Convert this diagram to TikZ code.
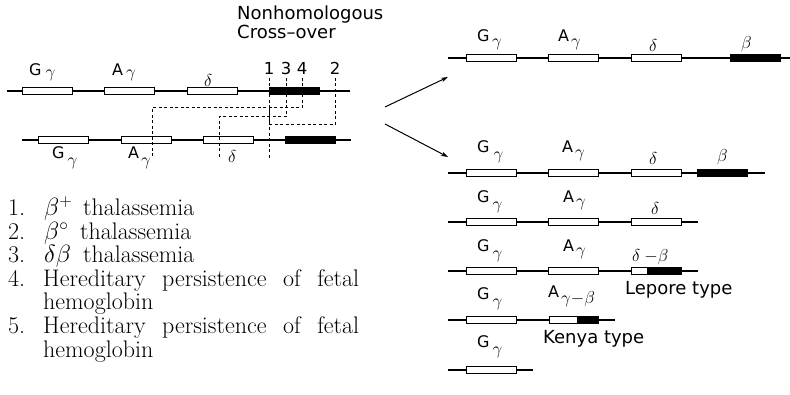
\documentclass[tikz,border=0pt]{standalone}
\usepackage{fontspec}
\setsansfont{DejaVu Sans}
\usetikzlibrary{arrows.meta}
\newcommand\gm[1]{\raisebox{-#1pt}{\fontsize{19}{21}\selectfont$\gamma$}}
\begin{document}
\begin{tikzpicture}[x=1pt,y=-1pt,
 chrom/.style={line width=1.2pt},
 gene/.style={draw, fill=white, line width=1pt, minimum width=50pt, minimum height=7pt, inner sep=0pt},
 bgene/.style={gene, fill=black},
 lab/.style={font=\sffamily\fontsize{16}{18}\selectfont, inner sep=0pt, anchor=base west, text height=12pt, text depth=0pt},
 greek/.style={font=\fontsize{18}{20}\selectfont, inner sep=0pt, anchor=base west},
 big/.style={font=\sffamily\fontsize{18}{20}\selectfont, inner sep=0pt, anchor=base west, text height=13pt, text depth=1.5pt},
 num/.style={font=\sffamily\fontsize{16.5}{18}\selectfont, inner sep=0pt, anchor=base},
 item/.style={font=\fontsize{24}{26}\selectfont, inner sep=0pt, anchor=base west, text height=15pt, text depth=4pt},
 cross/.style={line width=1pt, dash pattern=on 3pt off 2.5pt},
 arr/.style={line width=1pt, -{Stealth[length=7pt,width=4.5pt]}}
]
\useasboundingbox (0,0) rectangle (790,395);

% ---------- left: chromosome 1 ----------
\coordinate (c1s) at (7,91); \coordinate (c1e) at (350,91);
\draw[chrom] (c1s) -- (c1e);
\node[gene]  (c1g) at (47.5,91) {};
\node[gene]  (c1a) at (129.5,91) {};
\node[gene]  (c1d) at (212,91) {};
\node[bgene] (c1b) at (294,91) {};
\node[lab] (t1g) at (29,76) {G\hspace{4pt}\gm{2}};
\node[lab] (t1a) at (112,76) {A\hspace{3pt}\gm{2}};
\node[greek] (t1d) at (204,87) {$\delta$};

% ---------- left: chromosome 2 ----------
\coordinate (c2s) at (22,140); \coordinate (c2e) at (351,140);
\draw[chrom] (c2s) -- (c2e);
\node[gene]  (c2g) at (63.5,140) {};
\node[gene]  (c2a) at (146.5,140) {};
\node[gene]  (c2d) at (228,140) {};
\node[bgene] (c2b) at (310,140) {};
\node[lab] (t2g) at (52,159) {G\hspace{3pt}\gm{7}};
\node[lab] (t2a) at (128,159) {A\hspace{2pt}\gm{7}};
\node[greek] (t2d) at (228,163) {$\delta$};

% ---------- heading and numbers ----------
\node[big] (h1) at (237,20) {Nonhomologous};
\node[big] (h2) at (237,39) {Cross–over};
\node[num] (n1) at (269,75) {1};
\node[num] (n3) at (286,75) {3};
\node[num] (n4) at (302,75) {4};
\node[num] (n2) at (335,75) {2};

% ---------- cross-over lines ----------
\coordinate (d1a) at (269,78); \coordinate (d1b) at (269,158);
\coordinate (d1m) at (269,108); \coordinate (d1n) at (269,125);
\coordinate (d3a) at (286,78); \coordinate (d3c) at (219,117); \coordinate (d3b) at (219,158);
\coordinate (d4a) at (302,78); \coordinate (d4c) at (152,108); \coordinate (d4b) at (152,158);
\coordinate (d2a) at (335,78); \coordinate (d2c) at (269,125);
\draw[cross] (d1a) -- (d1b);
\draw[line width=1pt] (d1m) -- (d1n);
\draw[cross] (d3a) |- (d3c) -- (d3b);
\draw[cross] (d4a) |- (d4c) -- (d4b);
\draw[cross] (d2a) |- (d2c);

% ---------- arrows ----------
\coordinate (a1s) at (385,107); \coordinate (a1e) at (448,77);
\coordinate (a2s) at (385,124); \coordinate (a2e) at (448,157);
\draw[arr] (a1s) -- (a1e);
\draw[arr] (a2s) -- (a2e);

% ---------- right: row A ----------
\coordinate (rAs) at (448,58); \coordinate (rAe) at (790,58);
\draw[chrom] (rAs) -- (rAe);
\node[gene]  (rAg) at (491,58) {};
\node[gene]  (rAa) at (573.5,58) {};
\node[gene]  (rAd) at (656,58) {};
\node[bgene] (rAb) at (755,58) {};
\node[lab] (tAg) at (477,42) {G\hspace{2.5pt}\gm{5}};
\node[lab] (tAa) at (558,42) {A\hspace{2pt}\gm{5}};
\node[greek] (tAd) at (649,52) {$\delta$};
\node[greek] (tAb) at (741,49) {$\beta$};

% ---------- right: row B ----------
\coordinate (rBs) at (448,173); \coordinate (rBe) at (765,173);
\draw[chrom] (rBs) -- (rBe);
\node[gene]  (rBg) at (491,173) {};
\node[gene]  (rBa) at (573.5,173) {};
\node[gene]  (rBd) at (656,173) {};
\node[bgene] (rBb) at (722,173) {};
\node[lab] (tBg) at (477,153) {G\hspace{4pt}\gm{7}};
\node[lab] (tBa) at (562,153) {A\hspace{2pt}\gm{5}};
\node[greek] (tBd) at (649,165) {$\delta$};
\node[greek] (tBb) at (717,162) {$\beta$};

% ---------- right: row C ----------
\coordinate (rCs) at (448,222); \coordinate (rCe) at (698,222);
\draw[chrom] (rCs) -- (rCe);
\node[gene] (rCg) at (491,222) {};
\node[gene] (rCa) at (573.5,222) {};
\node[gene] (rCd) at (656,222) {};
\node[lab] (tCg) at (477,203) {G\hspace{3pt}\gm{7}};
\node[lab] (tCa) at (563,203) {A\hspace{2pt}\gm{4}};
\node[greek] (tCd) at (651,215) {$\delta$};

% ---------- right: row D (Lepore) ----------
\coordinate (rDs) at (448,271); \coordinate (rDe) at (698,271);
\draw[chrom] (rDs) -- (rDe);
\node[gene] (rDg) at (491,271) {};
\node[gene] (rDa) at (573.5,271) {};
\node[gene, minimum width=16pt] (rDd) at (639,271) {};
\node[bgene, minimum width=34pt] (rDb) at (664,271) {};
\node[lab] (tDg) at (477,252) {G\hspace{3pt}\gm{7}};
\node[lab] (tDa) at (563,252) {A\hspace{2pt}\gm{4}};
\node[greek] (tDd) at (632,262) {$\delta$\hspace{4pt}${-}\beta$};
\node[big] (tDl) at (625,295) {Lepore type};

% ---------- right: row E (Kenya) ----------
\coordinate (rEs) at (448,320); \coordinate (rEe) at (615,320);
\draw[chrom] (rEs) -- (rEe);
\node[gene] (rEg) at (491,320) {};
\node[gene, minimum width=28pt] (rEa) at (563,320) {};
\node[bgene, minimum width=21pt] (rEb) at (587.5,320) {};
\node[lab] (tEg) at (477,300) {G\hspace{3pt}\gm{7}};
\node[lab] (tEa) at (548,298) {A\hspace{2pt}\raisebox{-6pt}{\fontsize{18}{20}\selectfont$\gamma{-}\beta$}};
\node[big] (tEk) at (543,344) {Kenya type};

% ---------- right: row F ----------
\coordinate (rFs) at (448,370); \coordinate (rFe) at (533,370);
\draw[chrom] (rFs) -- (rFe);
\node[gene] (rFg) at (491,370) {};
\node[lab] (tFg) at (477,348) {G\hspace{3pt}\gm{7}};

% ---------- legend ----------
\node[item] (i1) at (8,216) {1.};
\node[item] (b1) at (44,216) {$\beta^{+}$};
\node[item] (j1) at (83,216) {thalassemia};
\node[item] (i2) at (8,239.5) {2.};
\node[item] (b2) at (44,239.5) {$\beta^{\circ}$};
\node[item] (j2) at (80,239.5) {thalassemia};
\node[item] (i3) at (8,263) {3.};
\node[item] (b3) at (44,263) {$\delta\beta$};
\node[item] (j3) at (83,263) {thalassemia};
\node[item] (i4) at (8,286.5) {4.};
\node[item] (j4) at (43,286.5) {\makebox[316pt][s]{Hereditary persistence of fetal}};
\node[item] (k4) at (43,310) {hemoglobin};
\node[item] (i5) at (8,333.5) {5.};
\node[item] (j5) at (43,333.5) {\makebox[316pt][s]{Hereditary persistence of fetal}};
\node[item] (k5) at (43,357) {hemoglobin};
\end{tikzpicture}
\end{document}
